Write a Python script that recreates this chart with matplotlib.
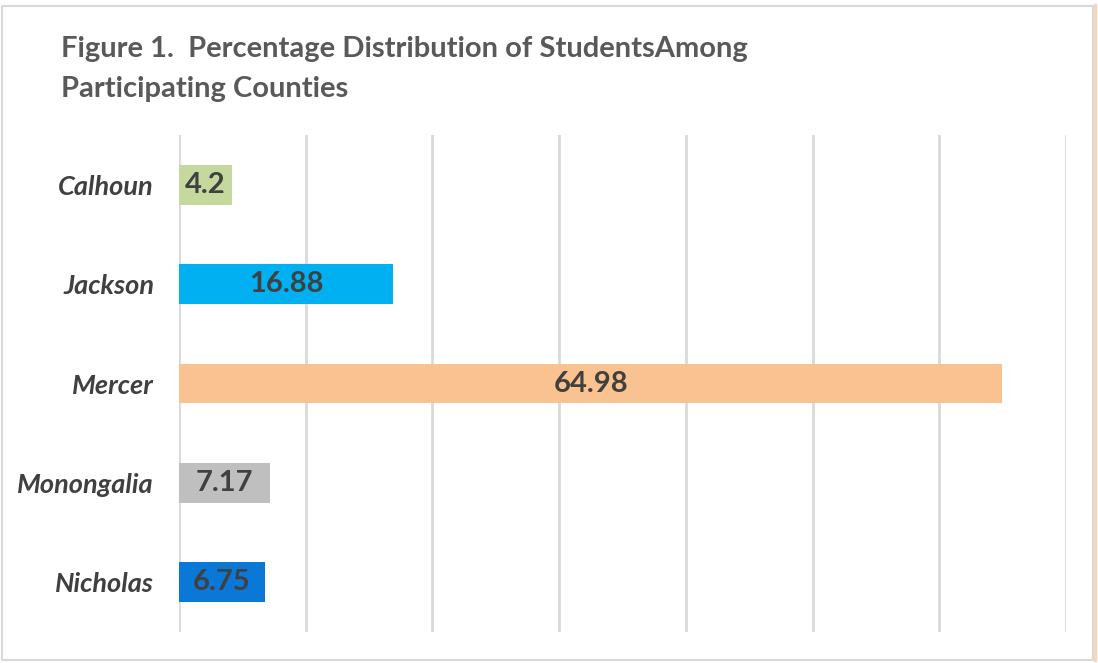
import matplotlib
matplotlib.use("Agg")
import matplotlib.pyplot as plt
from matplotlib.patches import Rectangle
from matplotlib.lines import Line2D

categories = ["Calhoun", "Jackson", "Mercer", "Monongalia", "Nicholas"]
values = [4.2, 16.88, 64.98, 7.17, 6.75]
colors = ["#C5D89E", "#00B0F0", "#F9C290", "#BFBFBF", "#0A78D6"]
title = "Figure 1.  Percentage Distribution of StudentsAmong\nParticipating Counties"

plt.rcParams['font.family'] = ['Lato', 'DejaVu Sans']

fig = plt.figure(figsize=(10.98, 6.63), dpi=100)
ax = fig.add_axes([179/1098, 1-632/663, (1066-179)/1098, (632-135)/663])

y = list(range(len(categories)))
ax.barh(y, values, height=0.4, color=colors, zorder=3)
for yi, v in zip(y, values):
    ax.text(v/2, yi, f"{v:g}", ha="center", va="center", fontsize=21,
            fontweight="bold", color="#404040", zorder=4)

ax.set_xlim(0, 70)
ax.set_ylim(len(categories)-0.5, -0.5)
ax.set_xticks(range(0, 71, 10))
ax.set_xticklabels([])
ax.tick_params(axis="x", length=0)
ax.tick_params(axis="y", length=0, pad=18)
ax.set_yticks(y)
ax.set_yticklabels(categories, fontsize=19.5, fontweight="bold", fontstyle="italic", color="#404040")
ax.grid(axis="x", color="#D9D9D9", linewidth=2, zorder=0)
for s in ax.spines.values():
    s.set_visible(False)

fig.text(61/1098, 1-36/663, title, ha="left", va="top", fontsize=21,
         fontweight="bold", color="#595959", linespacing=1.65)

fig.patches.append(Rectangle((2/1098, 3/663), 1091/1098, 654/663, transform=fig.transFigure,
                             fill=False, edgecolor="#D9D9D9", linewidth=1.5))
fig.lines.append(Line2D([1095/1098, 1095/1098], [3/663, 1-5/663], transform=fig.transFigure,
                        color="#F8D5B8", linewidth=2.5))

fig.savefig("out.png", dpi=100)
